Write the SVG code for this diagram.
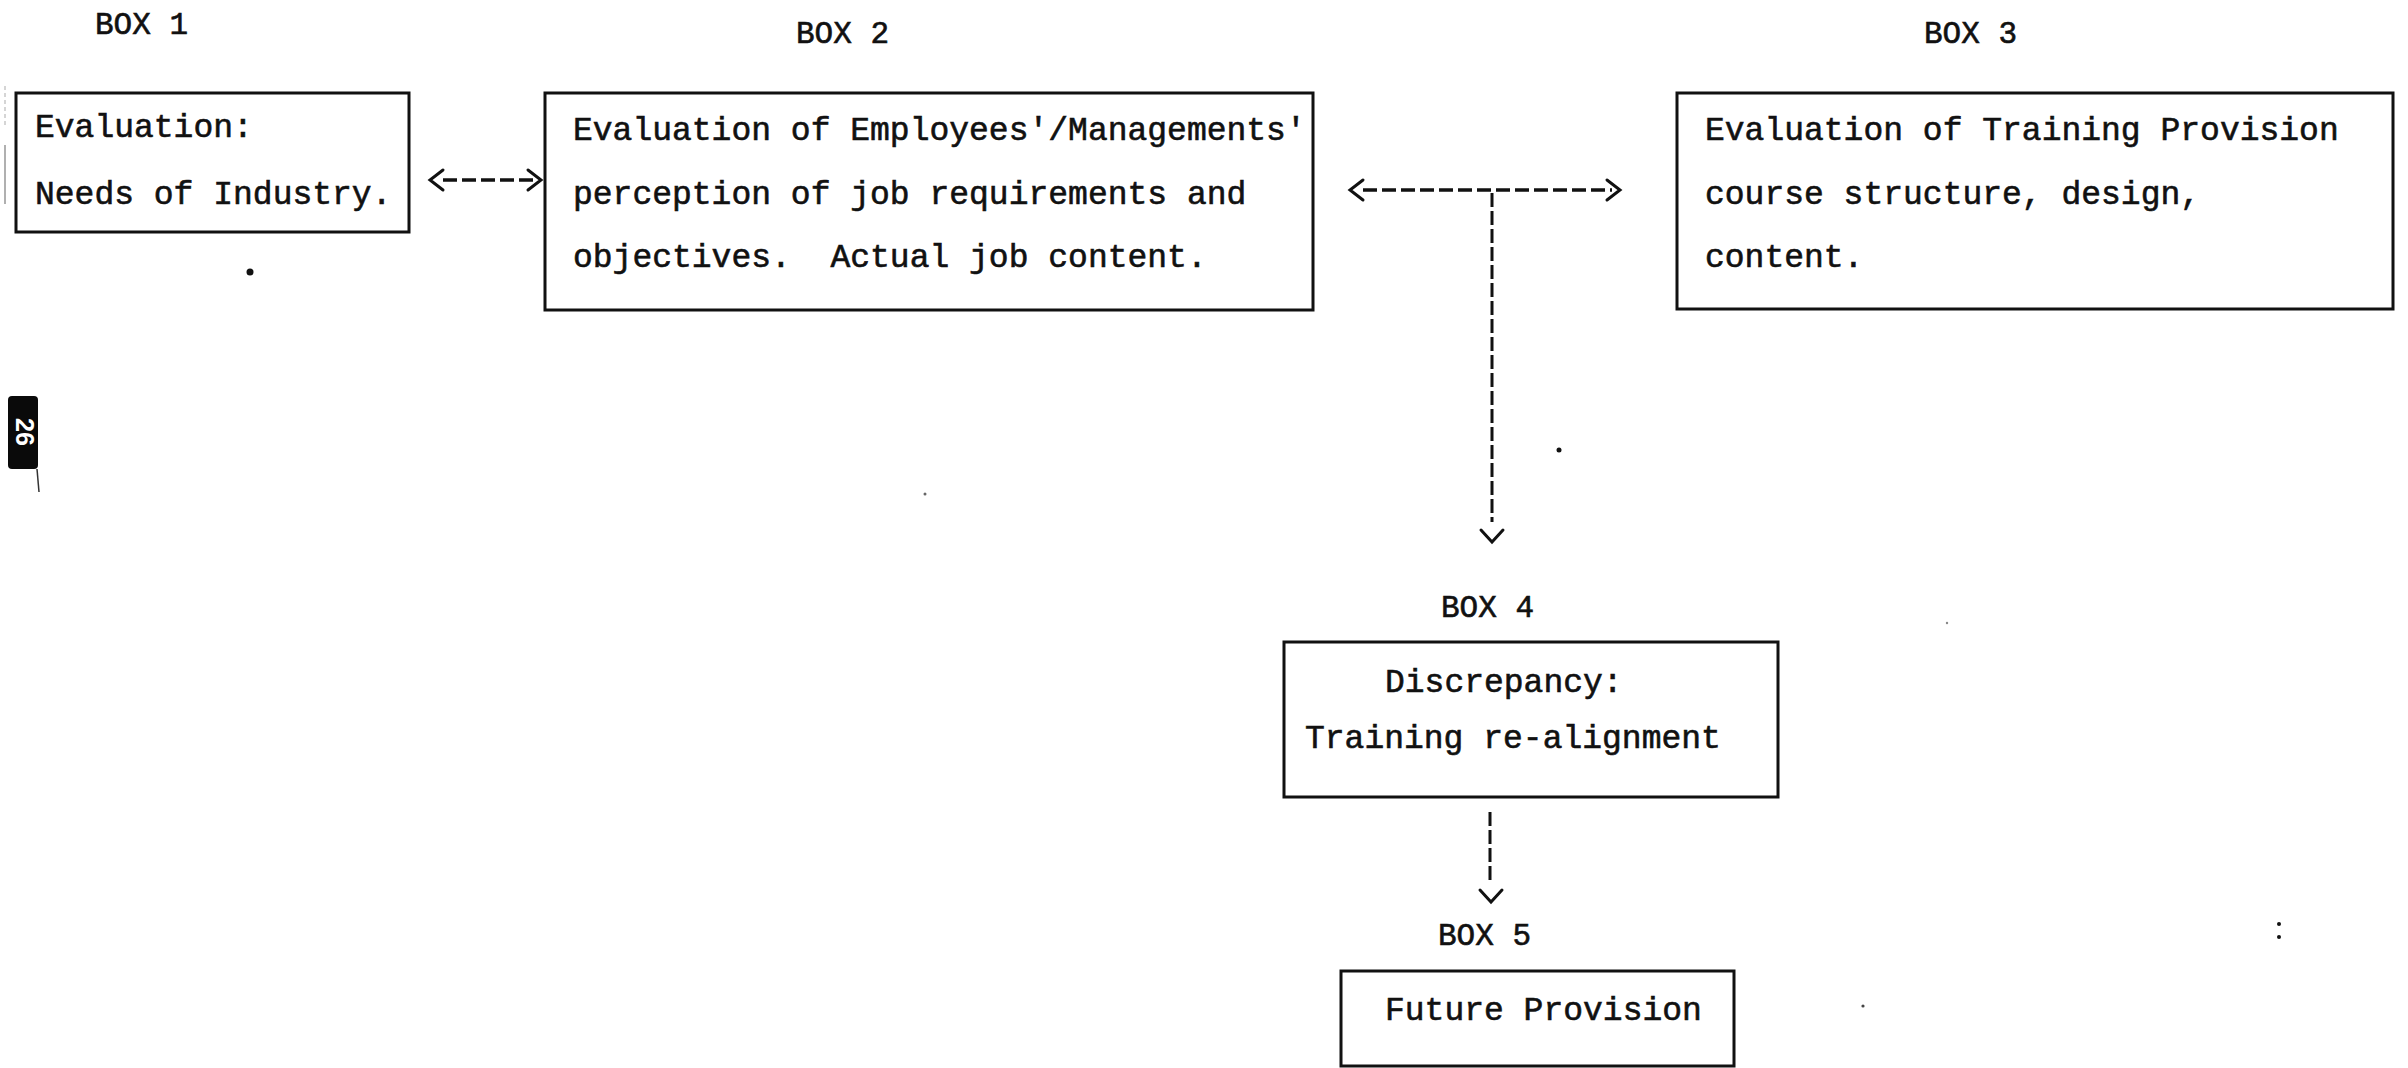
<svg xmlns="http://www.w3.org/2000/svg" width="2408" height="1068" viewBox="0 0 2408 1068">
  <defs>
    <style>
      .box { fill: #ffffff; stroke: #111111; stroke-width: 3; }
      .txt { font-family: "Liberation Mono", "DejaVu Sans Mono", monospace; font-size: 33px; fill: #111111; stroke: #111111; stroke-width: 0.6; white-space: pre; }
      .lbl { font-family: "Liberation Mono", "DejaVu Sans Mono", monospace; font-size: 31px; fill: #111111; stroke: #111111; stroke-width: 0.6; }
      .dashH { fill: none; stroke: #111111; stroke-width: 3.5; stroke-dasharray: 14 5; }
      .dashV { fill: none; stroke: #111111; stroke-width: 3; stroke-dasharray: 14 4; }
      .chev { fill: none; stroke: #111111; stroke-width: 3; stroke-linecap: round; stroke-linejoin: miter; }
      .speck { fill: #111111; }
    </style>
    <path id="chevL" class="chev" d="M13,-10 L0,0 L13,10"/>
    <path id="chevR" class="chev" d="M-13,-10 L0,0 L-13,10"/>
    <path id="chevD" class="chev" d="M-11,-12 L0,0 L11,-12"/>
  </defs>

  <rect x="0" y="0" width="2408" height="1068" fill="#ffffff"/>

  <!-- page edge artefacts -->
  <g id="page-edge">
    <line x1="5" y1="86" x2="5" y2="126" stroke="#c8c8c8" stroke-width="1.5" stroke-dasharray="4 3"/>
    <line x1="5" y1="145" x2="5" y2="204" stroke="#b0b0b0" stroke-width="2"/>
  </g>

  <!-- page tab -->
  <g id="page-tab">
    <rect x="8" y="396" width="30" height="73" rx="4" fill="#0a0a0a"/>
    <text x="25" y="432" transform="rotate(90 25 432)" text-anchor="middle" dominant-baseline="central" font-family="Liberation Sans, Arial, sans-serif" font-weight="bold" font-size="25" fill="#ffffff">26</text>
    <path d="M37,469 Q38,480 39,492" fill="none" stroke="#333333" stroke-width="1.5"/>
  </g>

  <g id="box1">
    <text class="lbl" x="95" y="34">BOX 1</text>
    <rect class="box" x="16" y="93" width="393" height="139"/>
    <text class="txt" x="35" y="137">Evaluation:</text>
    <text class="txt" x="35" y="204">Needs of Industry.</text>
  </g>

  <g id="box2">
    <text class="lbl" x="796" y="43">BOX 2</text>
    <rect class="box" x="545" y="93" width="768" height="217"/>
    <text class="txt" x="573" y="140">Evaluation of Employees'/Managements'</text>
    <text class="txt" x="573" y="204">perception of job requirements and</text>
    <text class="txt" x="573" y="267" xml:space="preserve">objectives.  Actual job content.</text>
  </g>

  <g id="box3">
    <text class="lbl" x="1924" y="43">BOX 3</text>
    <rect class="box" x="1677" y="93" width="716" height="216"/>
    <text class="txt" x="1705" y="140">Evaluation of Training Provision</text>
    <text class="txt" x="1705" y="204">course structure, design,</text>
    <text class="txt" x="1705" y="267">content.</text>
  </g>

  <g id="box4">
    <text class="lbl" x="1441" y="617">BOX 4</text>
    <rect class="box" x="1284" y="642" width="494" height="155"/>
    <text class="txt" x="1385" y="692">Discrepancy:</text>
    <text class="txt" x="1305" y="748">Training re-alignment</text>
  </g>

  <g id="box5">
    <text class="lbl" x="1438" y="945">BOX 5</text>
    <rect class="box" x="1341" y="971" width="393" height="95"/>
    <text class="txt" x="1385" y="1020">Future Provision</text>
  </g>

  <g id="connectors">
    <!-- box1 <-> box2 -->
    <line class="dashH" x1="443" y1="180" x2="538" y2="180"/>
    <use href="#chevL" x="430" y="180"/>
    <use href="#chevR" x="541" y="180"/>
    <!-- box2 <-> box3 -->
    <line class="dashH" x1="1363" y1="190" x2="1612" y2="190"/>
    <use href="#chevL" x="1350" y="190"/>
    <use href="#chevR" x="1620" y="190"/>
    <!-- junction down to box4 -->
    <line class="dashV" x1="1492" y1="193" x2="1492" y2="522"/>
    <use href="#chevD" x="1492" y="542"/>
    <!-- box4 -> box5 -->
    <line class="dashV" x1="1490" y1="812" x2="1490" y2="881"/>
    <use href="#chevD" x="1491" y="902"/>
  </g>

  <g id="specks">
    <circle class="speck" cx="250" cy="272" r="3.5"/>
    <circle class="speck" cx="1559" cy="450" r="2.5"/>
    <circle cx="925" cy="494" r="1.5" fill="#666666"/>
    <circle cx="1947" cy="623" r="1.2" fill="#888888"/>
    <circle cx="1863" cy="1006" r="1.6" fill="#444444"/>
    <circle class="speck" cx="2279" cy="924" r="2"/>
    <circle class="speck" cx="2279" cy="937" r="2"/>
  </g>
</svg>
